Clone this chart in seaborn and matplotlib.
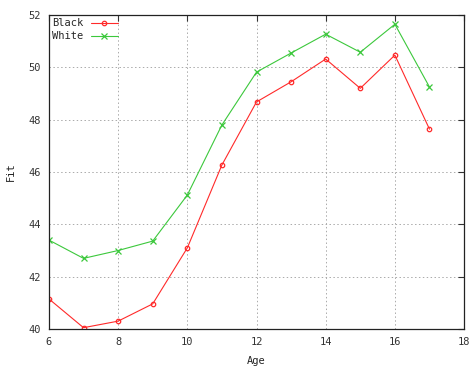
import matplotlib
matplotlib.use("Agg")
import matplotlib.pyplot as plt
import seaborn as sns
import pandas as pd

ages = [6, 7, 8, 9, 10, 11, 12, 13, 14, 15, 16, 17]
black = [41.15, 40.05, 40.3, 40.96, 43.1, 46.27, 48.68, 49.45, 50.32, 49.2, 50.47, 47.64]
white = [43.4, 42.7, 43.0, 43.36, 45.12, 47.8, 49.82, 50.55, 51.27, 50.58, 51.65, 49.25]
series_names = ["Black", "White"]
x_ticks = [6, 8, 10, 12, 14, 16, 18]
y_ticks = [40, 42, 44, 46, 48, 50, 52]

df = pd.DataFrame({
    "Age": ages * 2,
    "Fit": black + white,
    "Group": [series_names[0]] * len(ages) + [series_names[1]] * len(ages),
})

sns.set_style("white")
plt.rcParams['font.family'] = ['DejaVu Sans Mono']

fig = plt.figure(figsize=(4.75, 3.68), dpi=100)
ax = fig.add_axes([0.103, 0.106, 0.874, 0.853])

colors = {"Black": "#ff2a2a", "White": "#3cc83c"}
markers = {"Black": "o", "White": "x"}
msizes = {"Black": 3.2, "White": 4.5}
for name in series_names:
    sub = df[df["Group"] == name]
    sns.lineplot(data=sub, x="Age", y="Fit", color=colors[name], marker=markers[name],
                 linewidth=0.8, markersize=msizes[name], markerfacecolor="none",
                 markeredgecolor=colors[name], markeredgewidth=0.9,
                 label=name, ax=ax)

ax.set_xlim(6, 18)
ax.set_ylim(40, 52)
ax.set_xticks(x_ticks)
ax.set_yticks(y_ticks)
ax.tick_params(direction="in", length=4, width=0.8, labelsize=7.5, colors="#333333",
               top=True, right=True, labeltop=False, labelright=False, pad=6)
ax.tick_params(axis="x", pad=6)
ax.grid(True, linestyle=(0, (1.5, 2.5)), color="#aaaaaa", linewidth=0.7)
for s in ax.spines.values():
    s.set_color("#222222")
    s.set_linewidth(0.9)

ax.set_xlabel("Age", fontsize=7.5, color="#222222", labelpad=6)
ax.set_ylabel("Fit", fontsize=7.5, color="#222222", labelpad=9)

leg = ax.legend(loc="upper left", frameon=False, markerfirst=False, fontsize=7.5,
                handlelength=2.6, borderaxespad=0.0, borderpad=0.3, labelspacing=0.3,
                handletextpad=0.7)

fig.savefig("out.png", dpi=100)
